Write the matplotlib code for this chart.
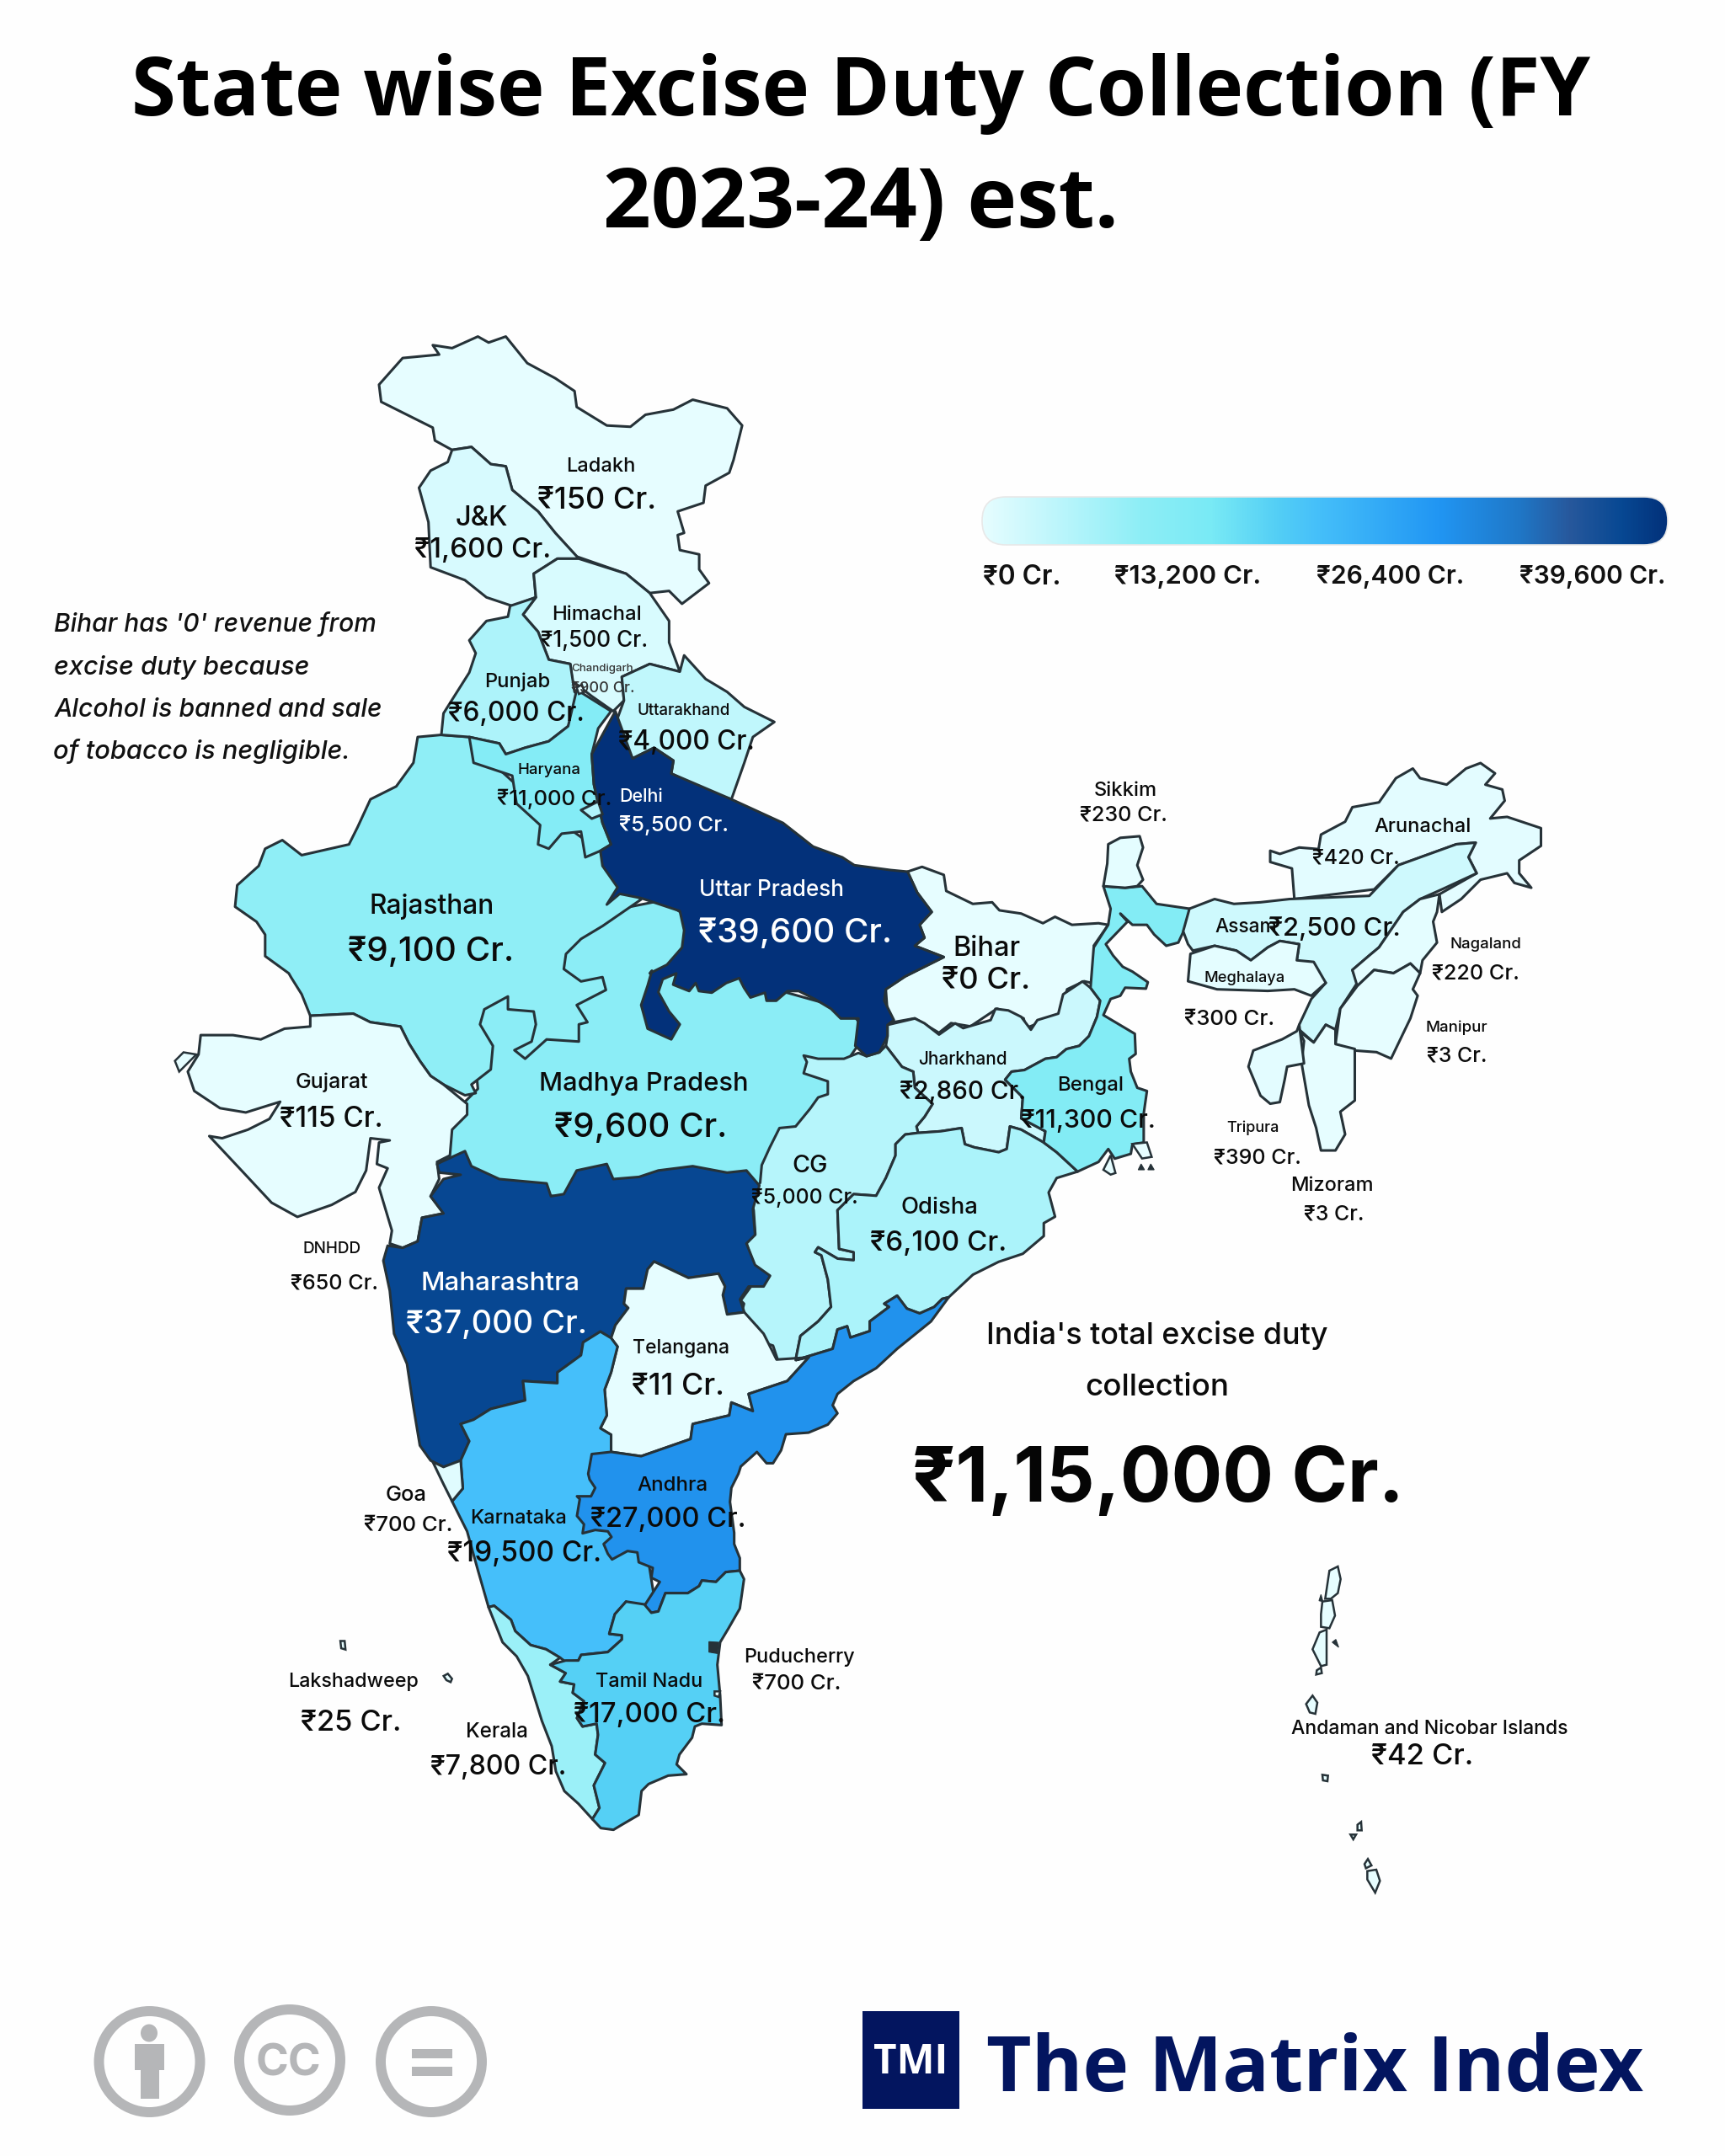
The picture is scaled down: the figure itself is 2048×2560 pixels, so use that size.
import numpy as np
import matplotlib
matplotlib.use("Agg")
import matplotlib.pyplot as plt
from matplotlib.colors import LinearSegmentedColormap, Normalize
from matplotlib.font_manager import FontProperties
from matplotlib.patches import Polygon, Circle, Rectangle, FancyBboxPatch, Ellipse
from matplotlib.textpath import TextPath

# ---------- map read-off frames (crop offset + scale of each crop used for tracing)
def fr(x0, y0, sx, sy):
    return lambda pts: [(x0 + a / sx, y0 + b / sy) for a, b in pts]
z1 = fr(200, 370, 1.96, 1.96)
z2 = fr(200, 1150, 1.96, 1.96)
z3 = fr(1000, 880, 1.742, 2.613)
z7 = fr(780, 1150, 2.613, 2.613)
z8 = fr(500, 1750, 3, 3)
z6 = fr(1480, 1820, 3, 3)

# ---------- data
STATES = ["Madhya Pradesh", "Rajasthan", "Gujarat", "Ladakh", "J&K", "Himachal", "Punjab", "Haryana",
          "Uttarakhand", "Bihar", "Jharkhand", "CG", "Odisha", "Maharashtra", "Telangana", "Karnataka",
          "Goa", "Andhra", "Kerala", "Tamil Nadu", "Bengal", "Uttar Pradesh", "Delhi", "Sikkim", "Arunachal",
          "Assam", "Meghalaya", "Nagaland", "Manipur", "Mizoram", "Tripura"]
VALUES = [9600, 9100, 115, 150, 1600, 1500, 6000, 11000, 4000, 0, 2860, 5000, 6100, 37000, 11, 19500,
          700, 27000, 7800, 17000, 11300, 39600, 5500, 230, 420, 2500, 300, 220, 3, 3, 390]
TOTAL_LABEL = "₹1,15,000 Cr."
LEGEND_TICKS = [0, 13200, 26400, 39600]
CMAP_STOPS = [0, 6100, 9100, 13200, 17000, 19500, 26400, 31000, 34000, 37000, 39600]
CMAP_COLORS = ["#E6FDFF", "#ABF3FA", "#8EEEF6", "#79EAF5", "#54CFF5", "#45BFFA", "#2196F3", "#1F78C8", "#27589C", "#074893", "#03317A"]

OUTLINES = {
"Madhya Pradesh": z1([(1000,1400),(1150,1370),(1240,1430)]) + z7([(350,60),(600,130),(650,200),(560,330),(560,600),(400,700)]) + z2([(1300,560),(900,530),(700,510),(640,440),(670,330),(720,280),(700,60)]),
"Rajasthan": z1([(580,990),(635,985),(700,990),(720,1020),(830,1120),(900,1180),(970,1230),(1020,1250),(1060,1300),(1080,1350),(1100,1368),(1010,1430),(960,1460),(925,1495),(920,1530)]) +
    z2([(960,30),(1010,20),(1018,50),(950,85),(975,125),(955,130),(955,170),(880,165),(830,210),(805,190),(845,170),(855,130),(850,100),(790,95),(790,65),(735,95),(725,130),(755,180),(750,235),(705,270),(715,290),(690,295),(640,270),(610,250),(585,215),(560,175),(540,135),(470,125),(430,105),(330,110),(310,60),(285,20)]) +
    z1([(280,1540),(225,1500),(225,1450),(205,1420),(155,1385),(160,1335),(210,1290),(225,1250),(265,1230),(310,1265),(420,1240),(440,1200),(470,1135),(530,1105),(570,1050)]),
"Gujarat": z2([(330,110),(430,105),(470,125),(540,135),(560,175),(585,215),(610,250),(640,270),(695,315),(695,340),(660,375),(655,435),(625,450),(630,490),(610,530),(640,570),(590,580),(580,635),(545,650),(515,640),(520,610),(490,510),(510,465),(485,455),(490,405),(515,400),(470,395),(460,470),(435,520),(380,550),(300,578),(240,545),(170,470),(95,390),(125,395),(185,375),(235,350),(260,310),(180,335),(120,325),(60,285),(45,240),(70,200),(75,155),(150,155),(215,165),(270,140),(330,135)]),
"Ladakh": z1([(490,170),(545,108),(630,100),(615,78),(660,85),(720,58),(745,72),(785,58),(835,120),(900,155),(945,185),(950,222),(1020,265),(1075,268),(1110,240),(1175,228),(1220,205),(1300,225),(1335,265),(1315,345),(1305,375),(1250,405),(1245,445),(1185,465),(1200,515),(1185,520),(1190,555),(1235,565),(1235,600),(1258,632),(1195,680),(1165,650),(1120,655),(1065,610),(950,570),(900,515),(860,465),(800,415),(785,360),(750,355),(705,315),(660,322),(620,300),(615,270),(495,210)]),
"J&K": z1([(660,322),(705,315),(750,355),(785,360),(800,415),(860,465),(900,515),(955,575),(905,575),(850,610),(855,665),(800,685),(740,665),(690,625),(610,595),(605,490),(583,410),(610,370),(650,350)]),
"Himachal": z1([(905,575),(955,575),(1065,610),(1120,655),(1165,720),(1165,770),(1190,838),(1120,820),(1055,850),(1060,905),(1035,930),(985,895),(940,860),(935,820),(885,810),(860,745),(825,705),(855,665),(850,610)]),
"Punjab": z1([(795,685),(855,665),(825,705),(860,745),(885,810),(935,820),(945,885),(965,905),(930,965),(885,1000),(830,1015),(785,1030),(770,1005),(700,990),(635,985),(640,935),(700,840),(715,795),(700,765),(740,720),(790,710)]),
"Haryana": z1([(950,880),(1030,930),(1000,970),(985,1030),(990,1100),(1010,1190),(1030,1240),(1005,1255),(970,1270),(960,1210),(915,1215),(885,1250),(860,1240),(865,1195),(810,1145),(800,1080),(710,1050),(700,990),(770,1005),(785,1030),(830,1015),(885,1000),(930,965)]),
"Delhi": z1([(960,1160),(1000,1140),(1010,1170),(985,1180)]),
"Uttarakhand": z1([(1055,850),(1120,820),(1190,838),(1200,800),(1250,855),(1300,885),(1340,920),(1410,955),(1360,990),(1340,1050),(1310,1135),(1250,1115),(1170,1075),(1175,1045),(1130,1015),(1080,1040),(1040,960),(1060,905)]),
"Bihar": z3([(135,405),(165,390),(210,415),(215,465),(270,505),(310,500),(325,525),(370,535),(415,565),(440,545),(475,570),(530,565),(550,570),(520,635),(535,680),(515,750),(500,745),(465,770),(450,850),(380,890),(375,860),(320,830),(265,885),(225,875),(200,905),(150,860),(95,875),(90,770),(130,730),(210,670),(150,635),(170,610),(160,570),(185,530),(155,470)]),
"Jharkhand": z7([(715,175),(800,155),(830,170),(875,205),(925,170),(950,185),(1035,160),(1050,125),(1090,130),(1130,150),(1160,190),(1180,160),(1245,140),(1260,80),(1320,40),(1345,60),(1375,100),(1365,150),(1340,210),(1310,240),(1270,250),(1240,275),(1205,280),(1140,315),(1100,320),(1080,345),(1135,400),(1130,465),(1205,505),(1200,540),(1130,500),(1095,490),(1085,560),(1060,570),(985,555),(955,545),(945,495),(880,505),(810,510),(805,490),(830,460),(855,420),(800,370),(795,320),(760,305),(710,240),(715,210)]),
"CG": z7([(455,270),(500,280),(580,280),(625,262),(650,272),(690,260),(710,240),(760,305),(795,320),(800,370),(855,420),(830,460),(805,490),(810,510),(770,515),(740,545),(740,580),(710,650),(680,705),(610,700),(560,750),(565,870),(610,880),(610,905),(560,900),(500,865),(490,880),(510,890),(530,965),(540,1050),(500,1095),(445,1140),(430,1215),(375,1215),(360,1170),(330,1160),(310,1110),(260,1080),(270,1040),(260,1030),(300,975),(345,960),(300,920),(275,845),(305,825),(300,750),(285,700),(320,665),(325,610),(350,555),(380,495),(430,490),(475,435),(500,400),(530,390),(530,350),(455,325),(465,290)]),
"Odisha": z7([(810,510),(880,505),(945,495),(955,545),(985,555),(1060,570),(1085,560),(1095,490),(1130,500),(1200,540),(1240,570),(1305,630),(1240,650),(1215,695),(1235,770),(1200,790),(1200,830),(1135,885),(1060,910),(980,950),(905,1020),(885,1025),(860,1050),(815,1070),(775,1055),(745,1015),(705,1040),(720,1050),(660,1095),(660,1125),(600,1145),(590,1110),(560,1120),(545,1180),(430,1215),(445,1140),(500,1095),(540,1050),(530,965),(510,890),(490,880),(500,865),(560,900),(610,905),(610,880),(565,870),(560,750),(610,700),(680,705),(710,650),(740,580),(740,545),(770,515)]),
"Maharashtra": z2([(635,450),(690,425),(705,460),(770,490),(880,500),(890,530),(920,525),(950,470),(1020,455),(1035,490),(1095,485),(1140,470),(1220,460),(1300,475),(1345,470),(1375,505),(1360,560),(1365,620),(1345,640),(1365,690),(1400,715),(1385,740),(1350,740),(1330,770),(1340,800),(1300,805),(1290,760),(1295,740),(1280,710),(1210,720),(1130,682),(1115,700),(1105,745),(1065,745),(1060,780),(1070,790),(1040,830),(1030,860),(1005,845),(965,870),(960,900),(905,940),(905,965),(825,960),(830,1005),(750,1025),(710,1050),(680,1060),(700,1100),(680,1145),(640,1160),(610,1145),(585,1110),(570,1020),(555,920),(525,850),(515,750),(500,680),(510,645),(545,650),(580,635),(590,580),(640,570),(610,530),(640,490),(680,480),(630,475),(625,455)]),
"Telangana": z2([(1130,682),(1210,720),(1280,710),(1295,740),(1290,760),(1300,805),(1340,800),(1385,850),(1415,910),(1490,905),(1440,960),(1350,990),(1360,1030),(1310,1010),(1305,1040),(1220,1060),(1215,1095),(1100,1135),(1030,1125),(1030,1085),(1005,1070),(1020,1040),(1015,980),(1030,940),(1045,880),(1030,860),(1040,830),(1070,790),(1060,780),(1065,745),(1105,745),(1115,700)]),
"Karnataka": z2([(680,1145),(700,1100),(680,1060),(710,1050),(750,1025),(830,1005),(825,960),(905,965),(905,940),(960,900),(965,870),(1005,845),(1030,860),(1045,880),(1030,940),(1015,980),(1020,1040),(1005,1070),(1030,1085),(1030,1125)]) +
    z8([(700,100),(800,250),(830,440),(760,500),(730,455),(690,500),(670,570),(715,575),(715,590),(665,635),(570,645),(560,665),(515,670),(495,655),(445,625),(390,610),(335,560),(320,520),(260,470),(240,475)]) +
    z2([(720,1400),(695,1310),(660,1240),(685,1210)]),
"Goa": z2([(615,1148),(640,1160),(680,1145),(685,1210),(660,1240),(640,1200)]),
"Andhra": z7([(905,1020),(850,1095),(745,1180),(680,1240),(610,1280),(560,1320),(545,1355),(560,1380),(530,1415),(470,1440),(400,1445),(385,1495),(360,1535),(340,1535),(310,1500),(260,1545)]) +
    z8([(1130,0),(1105,50),(1100,100),(1115,210),(1115,250),(1135,300),(1135,345),(1085,350),(1050,385),(1000,380),(990,400),(950,425),(870,425),(845,490),(820,495),(795,470),(850,385),(820,370),(825,335),(775,315),(770,280),(735,275),(680,305),(665,285),(650,250),(678,225),(665,205),(620,200),(575,212),(580,180),(555,150),(565,90),(555,80),(605,80),(620,50),(600,20),(595,0)]) +
    z2([(985,1130),(1030,1125),(1100,1135),(1215,1095),(1220,1060),(1305,1040),(1310,1010),(1360,1030),(1350,990),(1440,960),(1490,905)]) +
    z7([(430,1215),(545,1180),(560,1120),(590,1110),(600,1145),(660,1125),(660,1095),(720,1050),(705,1040),(745,1015),(775,1055),(815,1070),(860,1050),(885,1025)]),
"Kerala": z8([(240,475),(260,470),(320,520),(335,560),(390,610),(445,625),(495,655),(460,680),(515,710),(495,740),(545,750),(540,780),(580,810),(555,870),(575,900),(625,890),(630,930),(620,1000),(655,1030),(615,1110),(635,1190),(610,1230),(560,1175),(510,1130),(480,1060),(465,970),(430,880),(380,720),(340,650),(290,600)]),
"Tamil Nadu": z8([(1135,345),(1150,375),(1135,480),(1095,550),(1065,600),(1055,680),(1065,790),(1070,895),(1000,890),(975,900),(965,940),(920,1000),(910,1035),(945,1070),(880,1075),(810,1105),(785,1130),(775,1215),(715,1250),(685,1268),(640,1262),(610,1230),(635,1190),(615,1110),(655,1030),(620,1000),(630,930),(625,890),(575,900),(555,870),(580,810),(540,780),(545,750),(495,740),(515,710),(460,680),(515,665),(560,665),(570,645),(665,635),(715,590),(715,575),(670,570),(690,500),(730,455),(795,465),(820,495),(845,490),(870,425),(950,425),(990,400),(1000,380),(1050,385),(1085,350)]),
"Bengal": z3([(540,450),(585,455),(620,450),(650,505),(718,520),(715,560),(695,625),(670,635),(645,600),(630,570),(600,570),(575,535),(590,560),(545,630),(560,665),(580,700),(600,715),(632,748),(628,768),(585,765),(575,790),(555,800),(540,850),(605,908)]) +
    z7([(1485,265),(1465,280),(1470,320),(1490,370),(1520,380),(1510,450),(1510,540),(1475,545),(1470,575),(1420,590),(1400,560),(1370,600),(1305,630),(1240,570),(1200,540),(1205,505),(1130,465),(1135,400),(1080,345),(1100,320),(1140,315),(1205,280),(1240,275),(1270,250),(1310,240),(1340,210),(1365,150),(1375,100),(1345,60)]) +
    z3([(520,640),(550,570),(555,520)]),
"Uttar Pradesh": z1([(1040,930),(1080,1040),(1130,1015),(1175,1045),(1170,1075),(1310,1135),(1430,1190),(1500,1245),(1568,1270)]) +
    z3([(25,385),(100,400),(135,405),(155,470),(185,530),(160,570),(170,610),(150,635),(210,670),(130,730),(90,770)]) +
    z7([(705,100),(735,160),(715,175),(715,210),(690,260),(650,272),(615,240),(625,155),(570,155),(540,125),(490,95),(440,70),(405,70),(370,100),(340,100),(335,75),(290,90),(270,60),(255,30),(215,45),(170,75),(130,70),(120,45),(100,70),(50,50),(60,15)]) +
    z2([(1150,25),(1140,55),(1165,100),(1190,130),(1170,165),(1115,140),(1100,85),(1115,40),(1125,5)]) +
    z1([(1120,1540),(1160,1520),(1195,1480),(1200,1440),(1190,1395),(1100,1365),(1050,1355),(1020,1380),(1045,1340),(1010,1290),(1005,1255),(1030,1240),(1010,1190),(990,1100),(985,1030)]),
"Sikkim": z3([(550,320),(575,300),(615,295),(622,330),(610,385),(622,430),(610,450),(585,455),(540,450),(548,380)]),
"Arunachal": z3([(885,340),(905,350),(945,330),(985,335),(990,290),(1040,250),(1055,205),(1110,190),(1145,115),(1180,85),(1195,115),(1250,135),(1290,85),(1320,68),(1350,100),(1330,135),(1365,150),(1370,185),(1340,240),(1375,235),(1445,270),(1445,325),(1400,370),(1400,410),(1425,455),(1390,440),(1375,410),(1320,430),(1280,490),(1240,530),(1235,475),(1312,410),(1295,360),(1310,315),(1270,320),(1150,385),(1100,460),(935,490),(930,395),(885,375)]),
"Assam": z3([(718,520),(770,490),(810,505),(865,500),(925,490),(1090,480),(1150,385),(1270,320),(1310,315),(1295,360),(1312,410),(1240,460),(1195,490),(1160,530),(1110,640),(1090,665),(1055,710),(1065,750),(1030,830),(1020,895),(1000,880),(975,935),(945,895),(945,880),(970,800),(1000,750),(940,680),(945,630),(905,620),(880,640),(845,680),(815,650),(770,635),(725,650),(715,630),(705,590)]),
"Meghalaya": z3([(720,660),(770,635),(815,650),(845,680),(880,640),(905,620),(945,630),(940,680),(975,685),(1000,750),(970,790),(935,770),(880,775),(775,770),(715,745)]),
"Nagaland": z3([(1195,490),(1235,475),(1230,530),(1222,560),(1230,625),(1200,680),(1195,720),(1175,690),(1140,720),(1100,710),(1065,760),(1055,710),(1090,665),(1110,640),(1160,530)]),
"Manipur": z3([(1065,760),(1100,710),(1140,720),(1175,690),(1195,720),(1180,770),(1190,790),(1175,860),(1135,985),(1105,965),(1060,960),(1020,940),(1030,830)]),
"Mizoram": z3([(945,900),(975,935),(1000,880),(1020,895),(1020,940),(1060,955),(1060,1115),(1030,1150),(1040,1220),(1020,1270),(990,1270),(980,1200),(965,1130),(950,1000),(955,930)]),
"Tripura": z3([(945,880),(955,1000),(920,1010),(915,1050),(905,1120),(885,1125),(865,1100),(840,1010),(850,960),(910,925),(940,900)]),
}
KUTCH_ISLE = z2([(15,215),(35,195),(65,200),(40,225),(25,240)])
ANDAMAN = [z6(p) for p in [
    [(295,135),(325,120),(335,165),(325,215),(300,235),(280,235)],
    [(270,245),(305,240),(315,295),(295,340),(265,335),(265,290)],
    [(260,355),(285,345),(285,470),(265,475),(235,415)],
    [(250,490),(265,480),(268,500),(248,505)],
    [(235,580),(252,605),(245,645),(225,640),(212,610)],
    [(270,862),(290,865),(288,885),(272,882)],
    [(370,1075),(390,1075),(380,1092)],
    [(395,1040),(408,1030),(410,1060),(395,1060)],
    [(432,1162),(445,1185),(425,1195),(420,1180)],
    [(430,1205),(462,1200),(475,1240),(458,1282),(430,1235)]]]
DARK_ISLES = [z6([(265,220),(272,245),(258,242)]), z6([(305,390),(318,380),(328,408)]),
              z8([(1025,598),(1060,600),(1055,640),(1025,635)]),
              z3([(612,1330),(625,1330),(618,1312)]), z3([(632,1330),(645,1330),(638,1312)])]
PALE_ISLES = [z8([(80,720),(95,712),(110,730),(105,742),(90,735)]),
              z8([(1045,775),(1065,775),(1060,795),(1045,790)]),
              z1([(950,875),(962,868),(968,885),(955,890)]),
              z2([(400,1565),(410,1565),(412,1585),(402,1582)]),
              z3([(540,1330),(555,1285),(565,1340),(555,1345)]),
              z3([(600,1250),(630,1245),(640,1290),(620,1295)])]

# name text (label, x, y, width) and value text (x, y, width), in 1254-wide picture units
LABELS = [
("Ladakh",437,339,48, 150,434,364,84),("J&K",350,377,37, 1600,351,400,97),("Himachal",434,447,63, 1500,432,466,76),
("Chandigarh",438,486,44, 900,438,500,45),("Punjab",376,496,46, 6000,375,519,97),("Uttarakhand",497,517,66, 4000,499,540,97),
("Haryana",399,560,44, 11000,403,581,82),("Delhi",466,579,30, 5500,490,600,78),("Uttar Pradesh",561,647,103, 39600,578,679,138),
("Rajasthan",314,659,88, 9100,313,692,118),("Madhya Pradesh",468,788,149, 9600,466,820,123),("Gujarat",241,787,52, 115,241,814,73),
("DNHDD",241,908,41, 650,243,933,62),("Maharashtra",364,933,113, 37000,361,963,129),("Telangana",495,980,69, 11,493,1008,65),
("Goa",295,1087,28, 700,297,1109,63),("Karnataka",377,1104,68, 19500,381,1130,110),("Andhra",489,1080,50, 27000,486,1105,111),
("Tamil Nadu",472,1223,76, 17000,472,1247,108),("Kerala",361,1259,43, 7800,362,1285,97),("Puducherry",581,1205,79, 700,579,1224,63),
("Lakshadweep",257,1223,93, 25,255,1253,71),("Bihar",717,690,47, 0,717,713,62),("Jharkhand",700,770,63, 2860,700,794,90),
("Bengal",793,789,46, 11300,791,815,96),("CG",589,848,24, 5000,585,871,76),("Odisha",683,878,54, 6100,682,904,97),
("Sikkim",818,575,44, 230,817,593,62),("Arunachal",1034,601,69, 420,986,624,62),("Assam",906,674,44, 2500,970,675,94),
("Meghalaya",905,711,57, 300,894,741,64),("Nagaland",1080,687,50, 220,1073,708,62),("Manipur",1059,747,44, 3,1059,768,42),
("Tripura",911,820,37, 390,914,842,62),("Mizoram",968,862,58, 3,970,883,42),("Andaman and Nicobar Islands",1039,1257,201, 42,1034,1277,72),
]
WHITE_TEXT = {"Delhi", "Uttar Pradesh", "Maharashtra"}
NOTE_LINES = ["Bihar has '0' revenue from", "excise duty because", "Alcohol is banned and sale", "of tobacco is negligible."]

# ---------- drawing
K = 2048 / 1254
BODY = ["Inter", "Noto Sans", "DejaVu Sans"]
HEAD = ["Open Sans", "DejaVu Sans"]
LINE = "#263238"
fig = plt.figure(figsize=(20.48, 25.6), dpi=100, facecolor="#FEFEFE")
ax = fig.add_axes([0, 0, 1, 1])
ax.set_axis_off()
cmap = LinearSegmentedColormap.from_list("excise", [(s / CMAP_STOPS[-1], c) for s, c in zip(CMAP_STOPS, CMAP_COLORS)])
norm = Normalize(0, CMAP_STOPS[-1])

def fit(s, cx, cy, w, family=BODY, weight=500, style="normal", color="#0B0B0B", ha="center", scale=K):
    fp = FontProperties(family=family, weight=weight, style=style)
    ext = TextPath((0, 0), s, size=100, prop=fp).get_extents()
    size = (w * scale) * 72 / ext.width
    ax.text(cx * scale, cy * scale, s, fontproperties=fp, fontsize=size, color=color, ha=ha, va="center", zorder=6)

for name, val in zip(STATES, VALUES):
    ax.add_patch(Polygon(OUTLINES[name], closed=True, fc=cmap(norm(val)), ec=LINE, lw=2.2, joinstyle="round", zorder=2))
for p in ANDAMAN + [KUTCH_ISLE] + PALE_ISLES:
    ax.add_patch(Polygon(p, closed=True, fc="#E6FDFF", ec=LINE, lw=1.8, zorder=3))
for p in DARK_ISLES:
    ax.add_patch(Polygon(p, closed=True, fc=LINE, ec=LINE, lw=0.8, zorder=3))

for name, nx, ny, nw, val, vx, vy, vw in LABELS:
    c = "white" if name in WHITE_TEXT else "#0B0B0B"
    if name == "Chandigarh":
        c = "#333333"
    fit(name, nx, ny, nw, color=c)
    fit(f"₹{val:,} Cr.", vx, vy, vw, color=c)

fit("State wise Excise Duty Collection (FY", 626, 68, 1058, family=HEAD, weight="bold", color="black")
fit("2023-24) est.", 626, 150, 369, family=HEAD, weight="bold", color="black")
for line, y, w in zip(NOTE_LINES, [454, 485, 516, 546], [233, 184, 238, 213]):
    fit(line, 40 + w / 2, y, w, style="italic", color="#111111")
fit("India's total excise duty", 841, 971, 246)
fit("collection", 841, 1009, 102)
fit(TOTAL_LABEL, 842, 1077, 351, weight="bold", color="#050505")

# legend bar
x0, x1, y0, y1 = 1166, 1980, 590, 647
grad = norm(np.linspace(0, CMAP_STOPS[-1], 512)).reshape(1, -1)
im = ax.imshow(grad, cmap=cmap, vmin=0, vmax=1, extent=(x0, x1, y1, y0), aspect="auto", zorder=3)
clip = FancyBboxPatch((x0 + 28, y0 + 28), x1 - x0 - 56, y1 - y0 - 56, boxstyle="round,pad=28,rounding_size=28",
                      fc="none", ec="#E8E8E8", lw=1.2, zorder=4, transform=ax.transData)
ax.add_patch(clip)
im.set_clip_path(clip)
for v, (a, b) in zip(LEGEND_TICKS, [(1169, 1258), (1325, 1496), (1565, 1737), (1806, 1976)]):
    fit(f"₹{v:,} Cr.", (a + b) / 2, 685, b - a, family=BODY, weight=600, color="#111111", scale=1)

# footer badges
GREY = "#B5B6B8"
for cx, cy in [(177.5, 2448), (344, 2446), (512, 2448)]:
    ax.add_patch(Circle((cx, cy), 60, fc="none", ec=GREY, lw=8.6, zorder=3))
ax.add_patch(Ellipse((177, 2414), 20, 21, fc=GREY, ec="none", zorder=3))
ax.add_patch(Rectangle((160, 2427), 35, 31, fc=GREY, ec="none", zorder=3))
ax.add_patch(Rectangle((167, 2458), 22, 34, fc=GREY, ec="none", zorder=3))
fit("CC", 343, 2451, 73, family=BODY, weight="bold", color=GREY, scale=1)
ax.add_patch(Rectangle((489, 2433), 48, 11, fc=GREY, ec="none", zorder=3))
ax.add_patch(Rectangle((489, 2454), 48, 11, fc=GREY, ec="none", zorder=3))
NAVY = "#03155F"
ax.add_patch(Rectangle((1024, 2388), 115, 116, fc=NAVY, ec="none", zorder=3))
fit("TMI", 1081, 2450, 83, family=HEAD, weight="bold", color="white", scale=1)
fit("The Matrix Index", 1561, 2459, 778, family=HEAD, weight="bold", color=NAVY, scale=1)

ax.set_xlim(0, 2048)
ax.set_ylim(2560, 0)
fig.savefig("out.png", dpi=100, facecolor=fig.get_facecolor())
